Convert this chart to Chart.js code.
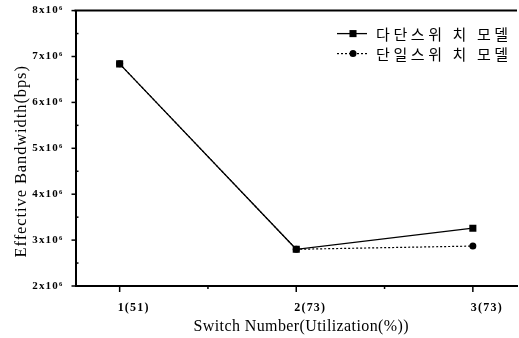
<!DOCTYPE html>
<html>
<head>
<meta charset="utf-8">
<script src="https://cdn.jsdelivr.net/npm/chart.js@4.4.1/dist/chart.umd.min.js"></script>
<style>
  html, body { margin: 0; padding: 0; background: #fff; overflow: hidden; }
  #wrap { width: 522px; height: 338px; }
</style>
</head>
<body>
<div id="wrap"><canvas id="c" width="522" height="338"></canvas></div>
<script>
// Effective bandwidth by number of switches (utilization %)
const switchLabels = ['1(51)', '2(73)', '3(73)'];
const multiSwitchBps = [6.84e6, 2.80e6, 3.26e6];   // 다단스위치 모델
const singleSwitchBps = [6.84e6, 2.80e6, 2.87e6];  // 단일스위치 모델
const seriesNames = ['다단스위 치 모델', '단일스위 치 모델'];
const yMin = 2e6, yMax = 8e6, yStep = 1e6;
const xTitle = 'Switch Number(Utilization(%))';
const yTitle = 'Effective Bandwidth(bps)';

const toPoints = arr => arr.map((v, i) => ({ x: i + 1, y: v }));

function seg(ctx, x1, y1, x2, y2) {
  ctx.beginPath(); ctx.moveTo(x1, y1); ctx.lineTo(x2, y2); ctx.stroke();
}

function marker(ctx, style, r, cx, cy) {
  ctx.beginPath();
  if (style === 'rect') {
    const s = Math.SQRT1_2 * r;
    ctx.rect(cx - s, cy - s, 2 * s, 2 * s);
  } else {
    ctx.arc(cx, cy, r, 0, Math.PI * 2);
  }
  ctx.fill();
}

const frameAndText = {
  id: 'frameAndText',
  beforeDraw(chart) {
    chart.ctx.letterSpacing = '1.2px';
  },
  afterDraw(chart) {
    const { ctx, chartArea: a, scales: { x, y } } = chart;
    ctx.save();
    ctx.letterSpacing = '0px';
    ctx.strokeStyle = '#000';
    ctx.fillStyle = '#000';

    // top edge of the frame
    ctx.lineWidth = 2;
    seg(ctx, a.left - 1, a.top, a.right, a.top);

    // x ticks: major at categories, minor half-way, pointing down
    ctx.lineWidth = 1.5;
    const xv = x.ticks.map(t => t.value);
    xv.forEach((v, i) => {
      const px = x.getPixelForValue(v);
      seg(ctx, px, a.bottom, px, a.bottom + 6);
      if (i < xv.length - 1) {
        const pm = x.getPixelForValue((v + xv[i + 1]) / 2);
        seg(ctx, pm, a.bottom, pm, a.bottom + 3);
      }
    });

    // y ticks: major outward, minor inward
    const yv = y.ticks.map(t => t.value);
    yv.forEach((v, i) => {
      const py = y.getPixelForValue(v);
      seg(ctx, a.left - 4, py, a.left, py);
      if (i < yv.length - 1) {
        const pm = y.getPixelForValue((v + yv[i + 1]) / 2);
        seg(ctx, a.left, pm, a.left + 3, pm);
      }
    });

    // axis titles
    ctx.font = '16px "Liberation Serif", "Times New Roman", serif';
    ctx.textAlign = 'center';
    ctx.textBaseline = 'middle';
    ctx.letterSpacing = '0.4px';
    ctx.fillText(xTitle, (a.left + a.right) / 2 + 5, a.bottom + 41);
    ctx.save();
    ctx.translate(22, (a.top + a.bottom) / 2 + 13);
    ctx.rotate(-Math.PI / 2);
    ctx.font = '16.5px "Liberation Serif", "Times New Roman", serif';
    ctx.letterSpacing = '0.9px';
    ctx.fillText(yTitle, 0, 0);
    ctx.restore();

    // legend: line sample with marker, then name
    ctx.font = '15px "Noto Sans CJK KR", sans-serif';
    ctx.textAlign = 'left';
    ctx.letterSpacing = '3.6px';
    chart.data.datasets.forEach((ds, i) => {
      const ry = a.top + 23 + i * 20;
      const x0 = a.right - 180;
      ctx.lineWidth = ds.borderWidth;
      ctx.setLineDash(ds.borderDash || []);
      seg(ctx, x0, ry, x0 + 30, ry);
      ctx.setLineDash([]);
      marker(ctx, ds.pointStyle, ds.pointRadius, x0 + 16, ry);
      ctx.fillText(ds.label, x0 + 39, ry + 1);
    });
    ctx.restore();
  }
};

new Chart(document.getElementById('c'), {
  type: 'line',
  data: {
    datasets: [
      {
        label: seriesNames[0],
        data: toPoints(multiSwitchBps),
        borderColor: '#000', backgroundColor: '#000',
        borderWidth: 1.3,
        pointStyle: 'rect', pointRadius: 5, pointBorderWidth: 0,
        pointBackgroundColor: '#000'
      },
      {
        label: seriesNames[1],
        data: toPoints(singleSwitchBps),
        borderColor: '#000', backgroundColor: '#000',
        borderWidth: 1.2, borderDash: [2, 2],
        pointStyle: 'circle', pointRadius: 3.5, pointBorderWidth: 0,
        pointBackgroundColor: '#000'
      }
    ]
  },
  options: {
    responsive: false,
    animation: false,
    events: [],
    layout: { padding: { top: 9, right: 1.5, left: 0, bottom: 0 } },
    plugins: { legend: { display: false }, tooltip: { enabled: false } },
    scales: {
      x: {
        type: 'linear',
        min: 0.75, max: 3.25,
        afterBuildTicks: s => { s.ticks = switchLabels.map((_, i) => ({ value: i + 1 })); },
        afterFit: s => { s.height = 52; },
        grid: { display: false },
        border: { display: true, color: '#000', width: 2 },
        ticks: {
          color: '#000',
          padding: 7,
          align: 'start',
          labelOffset: -2,
          autoSkip: false,
          maxRotation: 0,
          font: { family: '"Liberation Serif", serif', size: 12, weight: 'bold' },
          callback: (v, i) => switchLabels[i]
        }
      },
      y: {
        min: yMin, max: yMax,
        afterFit: s => { s.width = 75.5; },
        grid: { display: false },
        border: { display: true, color: '#000', width: 2 },
        ticks: {
          stepSize: yStep,
          color: '#000',
          padding: 4,
          font: { family: '"Liberation Serif", serif', size: 11, weight: 'bold' },
          callback: v => `${v / 1e6}x10⁶`
        }
      }
    }
  },
  plugins: [frameAndText]
});
</script>
</body>
</html>
